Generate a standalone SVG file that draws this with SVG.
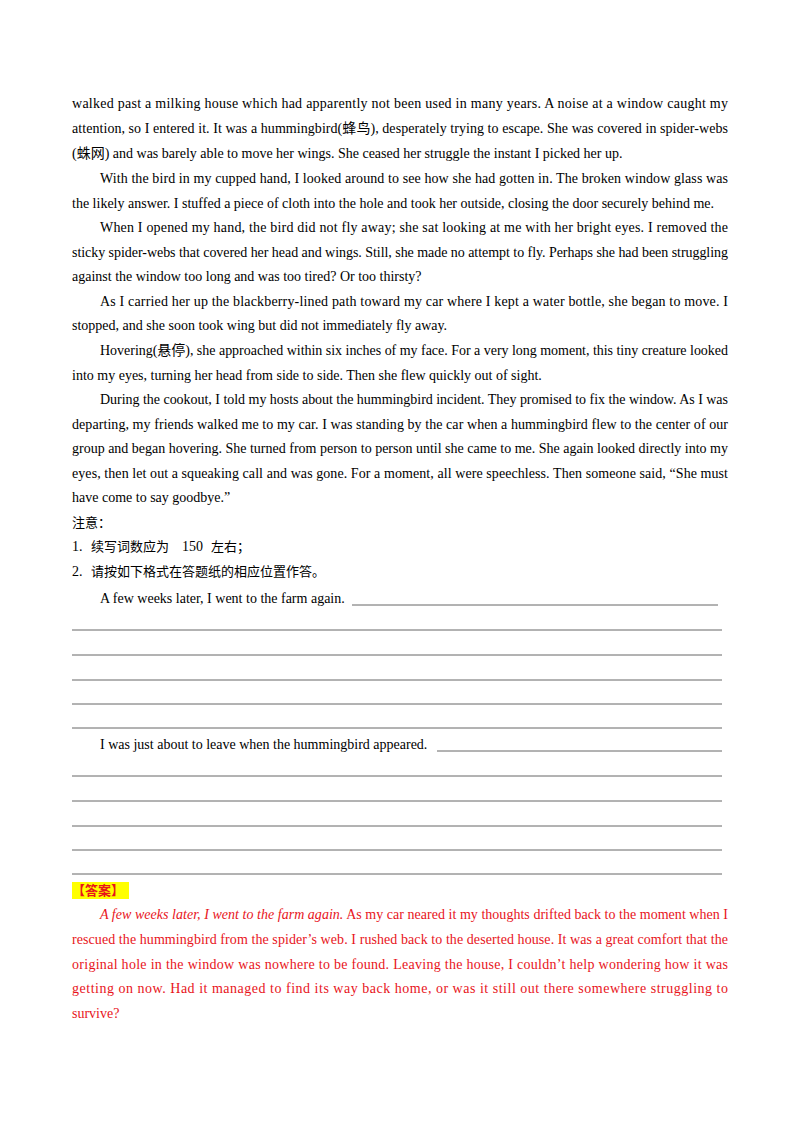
<svg xmlns="http://www.w3.org/2000/svg" width="800" height="1132" viewBox="0 0 800 1132">
<style>
text{font-family:"Liberation Serif","Noto Sans CJK SC",serif;font-size:14px;fill:#000}
.cn{font-family:"Noto Sans CJK SC",sans-serif;font-size:13px}
.r{fill:#e8141b}
line{stroke:#555;stroke-width:0.9}
</style>
<rect width="800" height="1132" fill="#fff"/>
<text x="72" y="108" textLength="656" lengthAdjust="spacing">walked past a milking house which had apparently not been used in many years. A noise at a window caught my</text>
<text x="72" y="133" textLength="656" lengthAdjust="spacing">attention, so I entered it. It was a hummingbird(蜂鸟), desperately trying to escape. She was covered in spider-webs</text>
<text x="72" y="158">(蛛网) and was barely able to move her wings. She ceased her struggle the instant I picked her up.</text>
<text x="100" y="183" textLength="628" lengthAdjust="spacing">With the bird in my cupped hand, I looked around to see how she had gotten in. The broken window glass was</text>
<text x="72" y="208">the likely answer. I stuffed a piece of cloth into the hole and took her outside, closing the door securely behind me.</text>
<text x="100" y="232" textLength="628" lengthAdjust="spacing">When I opened my hand, the bird did not fly away; she sat looking at me with her bright eyes. I removed the</text>
<text x="72" y="257" textLength="656" lengthAdjust="spacing">sticky spider-webs that covered her head and wings. Still, she made no attempt to fly. Perhaps she had been struggling</text>
<text x="72" y="281">against the window too long and was too tired? Or too thirsty?</text>
<text x="100" y="306" textLength="628" lengthAdjust="spacing">As I carried her up the blackberry-lined path toward my car where I kept a water bottle, she began to move. I</text>
<text x="72" y="330">stopped, and she soon took wing but did not immediately fly away.</text>
<text x="100" y="355" textLength="628" lengthAdjust="spacing">Hovering(悬停), she approached within six inches of my face. For a very long moment, this tiny creature looked</text>
<text x="72" y="380">into my eyes, turning her head from side to side. Then she flew quickly out of sight.</text>
<text x="100" y="404" textLength="628" lengthAdjust="spacing">During the cookout, I told my hosts about the hummingbird incident. They promised to fix the window. As I was</text>
<text x="72" y="429" textLength="656" lengthAdjust="spacing">departing, my friends walked me to my car. I was standing by the car when a hummingbird flew to the center of our</text>
<text x="72" y="453" textLength="656" lengthAdjust="spacing">group and began hovering. She turned from person to person until she came to me. She again looked directly into my</text>
<text x="72" y="478" textLength="656" lengthAdjust="spacing">eyes, then let out a squeaking call and was gone. For a moment, all were speechless. Then someone said, “She must</text>
<text x="72" y="502">have come to say goodbye.”</text>
<text x="72" y="527" class="cn">注意：</text>
<text x="72" y="551"><tspan>1.</tspan><tspan class="cn" x="91">续写词数应为</tspan><tspan x="182">150</tspan><tspan class="cn" x="211">左右；</tspan></text>
<text x="72" y="576"><tspan>2.</tspan><tspan class="cn" x="91">请按如下格式在答题纸的相应位置作答。</tspan></text>
<text x="100" y="603">A few weeks later, I went to the farm again.</text>
<g>
<line x1="352" y1="605" x2="718" y2="605"/>
<line x1="72" y1="630" x2="722" y2="630"/>
<line x1="72" y1="655" x2="722" y2="655"/>
<line x1="72" y1="680" x2="722" y2="680"/>
<line x1="72" y1="704" x2="722" y2="704"/>
<line x1="72" y1="728" x2="722" y2="728"/>
<line x1="437" y1="751" x2="722" y2="751"/>
<line x1="72" y1="776" x2="722" y2="776"/>
<line x1="72" y1="801" x2="722" y2="801"/>
<line x1="72" y1="826" x2="722" y2="826"/>
<line x1="72" y1="850" x2="722" y2="850"/>
<line x1="72" y1="874" x2="722" y2="874"/>
</g>
<text x="100" y="749">I was just about to leave when the hummingbird appeared.</text>
<rect x="72" y="882" width="57" height="17" fill="#ffff00"/>
<text x="72" y="895" class="cn r" font-weight="bold">【答案】</text>
<text x="100" y="919" class="r" textLength="628" lengthAdjust="spacing"><tspan font-style="italic">A few weeks later, I went to the farm again.</tspan> As my car neared it my thoughts drifted back to the moment when I</text>
<text x="72" y="944" class="r" textLength="656" lengthAdjust="spacing">rescued the hummingbird from the spider’s web. I rushed back to the deserted house. It was a great comfort that the</text>
<text x="72" y="969" class="r" textLength="656" lengthAdjust="spacing">original hole in the window was nowhere to be found. Leaving the house, I couldn’t help wondering how it was</text>
<text x="72" y="993" class="r" textLength="656" lengthAdjust="spacing">getting on now. Had it managed to find its way back home, or was it still out there somewhere struggling to</text>
<text x="72" y="1018" class="r">survive?</text>
</svg>
